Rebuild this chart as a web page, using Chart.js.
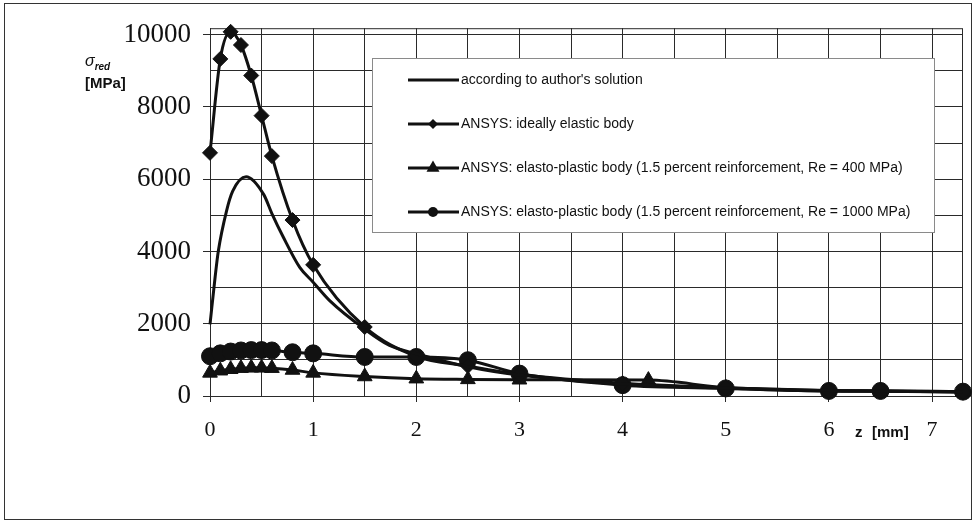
<!DOCTYPE html>
<html>
<head>
<meta charset="utf-8">
<script src="https://cdn.jsdelivr.net/npm/chart.js@4/dist/chart.umd.min.js"></script>
<style>
  html, body { margin: 0; padding: 0; background: #fff; }
  #wrap { position: relative; width: 975px; height: 523px; overflow: hidden; }
  #frame { position: absolute; left: 4px; top: 3px; width: 968px; height: 517px; border: 1px solid #333; box-sizing: border-box; }
  #chart { position: absolute; left: 0; top: 0; }
  .lbl { position: absolute; font-family: 'Liberation Sans', Arial, sans-serif; color: #111; white-space: nowrap; }
</style>
</head>
<body>
<div id="wrap">
  <div id="frame"></div>
  <canvas id="chart" width="975" height="523"></canvas>
  <div class="lbl" style="left:85px;top:52px;font-size:16px;font-style:italic;">σ<sub style="font-size:10px;font-weight:bold;">red</sub></div>
  <div class="lbl" style="left:85px;top:74px;font-size:15px;font-weight:bold;">[MPa]</div>
  <div class="lbl" style="left:855px;top:423px;font-size:15px;font-weight:bold;">z</div>
  <div class="lbl" style="left:872px;top:423px;font-size:15px;font-weight:bold;">[mm]</div>
</div>
<script>
// axis grid values
const xTicks = [0, 0.5, 1, 1.5, 2, 2.5, 3, 3.5, 4, 4.5, 5, 5.5, 6, 6.5, 7]
const yTicks = [0, 1000, 2000, 3000, 4000, 5000, 6000, 7000, 8000, 9000, 10000]

// according to author's solution
const authorZ = [0, 0.05, 0.08, 0.16, 0.22, 0.35, 0.52, 0.6, 0.71, 0.87, 1, 1.16, 1.5, 1.74, 2, 2.5, 3, 4, 5, 6, 7.3]
const authorSigma = [1980, 3300, 4000, 5120, 5670, 6070, 5580, 5050, 4400, 3560, 3150, 2640, 1850, 1400, 1170, 810, 580, 330, 220, 150, 110]

// ANSYS: ideally elastic body
const elasticZ = [0, 0.1, 0.2, 0.3, 0.4, 0.5, 0.6, 0.8, 1, 1.5, 2, 2.5, 3, 4, 5, 6, 6.5, 7.3]
const elasticSigma = [6730, 9330, 10080, 9715, 8870, 7760, 6640, 4870, 3630, 1910, 1100, 830, 600, 350, 230, 150, 140, 120]

// ANSYS: elasto-plastic, Re = 400 MPa
const re400Z = [0, 0.1, 0.2, 0.3, 0.4, 0.5, 0.6, 0.8, 1, 1.5, 2, 2.5, 3, 4.25, 5, 6, 6.5, 7.3]
const re400Sigma = [640, 700, 740, 770, 780, 780, 770, 720, 640, 540, 480, 460, 450, 440, 230, 140, 130, 110]

// ANSYS: elasto-plastic, Re = 1000 MPa
const re1000Z = [0, 0.1, 0.2, 0.3, 0.4, 0.5, 0.6, 0.8, 1, 1.5, 2, 2.5, 3, 4, 5, 6, 6.5, 7.3]
const re1000Sigma = [1100, 1180, 1230, 1260, 1270, 1270, 1260, 1210, 1180, 1080, 1080, 990, 620, 300, 210, 140, 140, 120]

const legendLabels = [
  'according to author\'s solution',
  'ANSYS: ideally elastic body',
  'ANSYS: elasto-plastic body (1.5 percent reinforcement, Re = 400 MPa)',
  'ANSYS: elasto-plastic body (1.5 percent reinforcement, Re = 1000 MPa)'
]

const INK = '#111'
const GRID = '#2a2a2a'

const makeSet = (label, xs, ys, style, radius) => ({
  label,
  data: xs.map((x, i) => ({ x, y: ys[i] })),
  borderColor: INK,
  backgroundColor: INK,
  borderWidth: 3,
  pointStyle: style,
  pointRadius: radius,
  pointHoverRadius: radius,
  pointBorderWidth: 1,
  cubicInterpolationMode: 'monotone',
  clip: false
})

const drawMarker = (ctx, style, x, y, r) => {
  ctx.beginPath()
  if (style === 'rectRot') {
    ctx.moveTo(x - r, y)
    ctx.lineTo(x, y - r)
    ctx.lineTo(x + r, y)
    ctx.lineTo(x, y + r)
  } else if (style === 'triangle') {
    ctx.moveTo(x, y - r)
    ctx.lineTo(x + r * 0.866, y + r / 2)
    ctx.lineTo(x - r * 0.866, y + r / 2)
  } else {
    ctx.arc(x, y, r, 0, Math.PI * 2)
  }
  ctx.closePath()
  ctx.fill()
}

// plot frame + legend box inside the plot
const extras = {
  id: 'extras',
  beforeDatasetsDraw(chart) {
    const { ctx, chartArea: a } = chart
    ctx.save()
    ctx.strokeStyle = GRID
    ctx.lineWidth = 1
    ctx.strokeRect(a.left + 0.5, a.top + 0.5, a.right - a.left - 1, a.bottom - a.top)
    ctx.restore()
  },
  afterDraw(chart) {
    const { ctx } = chart
    const box = { x: 372, y: 58, w: 562, h: 174 }
    const styles = [null, 'rectRot', 'triangle', 'circle']
    const sizes = [0, 5, 7.5, 5]
    ctx.save()
    ctx.fillStyle = '#fff'
    ctx.fillRect(box.x, box.y, box.w, box.h)
    ctx.strokeStyle = '#8a8a8a'
    ctx.lineWidth = 1
    ctx.strokeRect(box.x + 0.5, box.y + 0.5, box.w, box.h)
    ctx.font = '14px "Liberation Sans", Arial, sans-serif'
    ctx.textBaseline = 'middle'
    legendLabels.forEach((text, i) => {
      const y = 80 + i * 44
      ctx.strokeStyle = INK
      ctx.lineWidth = 2.8
      ctx.beginPath()
      ctx.moveTo(408, y)
      ctx.lineTo(459, y)
      ctx.stroke()
      ctx.fillStyle = INK
      if (styles[i]) drawMarker(ctx, styles[i], 433, y, sizes[i])
      ctx.fillText(text, 461, y)
    })
    ctx.restore()
  }
}

new Chart(document.getElementById('chart'), {
  type: 'line',
  data: {
    datasets: [
      makeSet(legendLabels[0], authorZ, authorSigma, 'circle', 0),
      makeSet(legendLabels[1], elasticZ, elasticSigma, 'rectRot', 7.5),
      makeSet(legendLabels[2], re400Z, re400Sigma, 'triangle', 8.5),
      makeSet(legendLabels[3], re1000Z, re1000Sigma, 'circle', 8.5)
    ]
  },
  options: {
    responsive: false,
    animation: false,
    events: [],
    layout: { padding: { left: 0, top: 27, right: 12, bottom: 0 } },
    scales: {
      x: {
        type: 'linear',
        min: 0,
        max: 7.3,
        afterBuildTicks: s => { s.ticks = xTicks.map(value => ({ value })) },
        afterFit: s => { s.height = 127 },
        ticks: {
          autoSkip: false,
          maxRotation: 0,
          padding: 15,
          color: INK,
          font: { family: '"Liberation Serif", "Times New Roman", serif', size: 22 },
          callback: v => Number.isInteger(v) ? String(v) : ''
        },
        grid: {
          color: GRID,
          lineWidth: 1,
          tickLength: 6,
          tickColor: ctx => ctx.tick && Number.isInteger(ctx.tick.value) ? GRID : 'rgba(0,0,0,0)'
        },
        border: { color: GRID, width: 1 }
      },
      y: {
        min: 0,
        max: 10180,
        afterBuildTicks: s => { s.ticks = yTicks.map(value => ({ value })) },
        afterFit: s => { s.width = 210 },
        ticks: {
          autoSkip: false,
          padding: 12,
          color: INK,
          font: { family: '"Liberation Serif", "Times New Roman", serif', size: 27 },
          callback: v => v % 2000 === 0 ? String(v) : ''
        },
        grid: {
          color: GRID,
          lineWidth: 1,
          tickLength: 7,
          tickColor: ctx => ctx.tick && ctx.tick.value % 2000 === 0 ? GRID : 'rgba(0,0,0,0)'
        },
        border: { color: GRID, width: 1 }
      }
    },
    plugins: {
      legend: { display: false },
      tooltip: { enabled: false }
    }
  },
  plugins: [extras]
})
</script>
</body>
</html>
